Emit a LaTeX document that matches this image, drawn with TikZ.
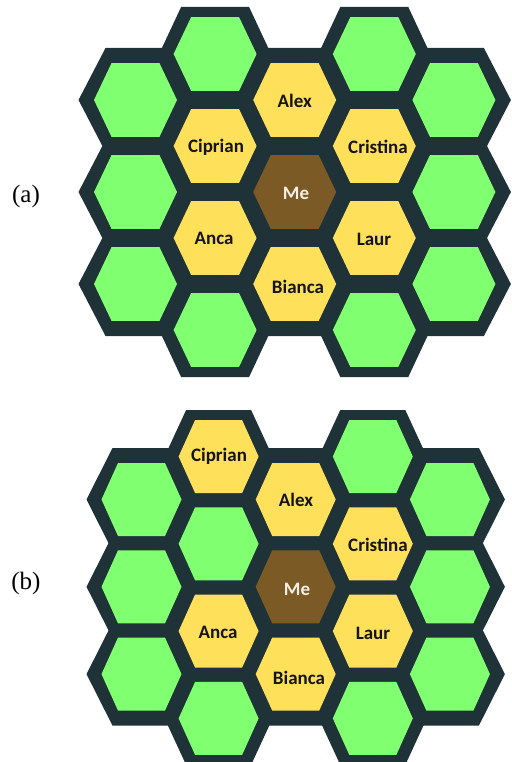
\documentclass[tikz,border=0pt]{standalone}
\usepackage{fontspec}
\newfontfamily\hexfont{Carlito}
\newfontfamily\capfont{Liberation Serif}
\definecolor{frame}{RGB}{30,50,56}
\definecolor{leaf}{RGB}{128,255,112}
\definecolor{gold}{RGB}{255,224,90}
\definecolor{bark}{RGB}{124,90,38}
\definecolor{metext}{RGB}{245,240,230}
\newcommand\hexcell[6]{\fill[#6] (#1-#3,#2) -- (#1-#4,#2-#5) -- (#1+#4,#2-#5) -- (#1+#3,#2) -- (#1+#4,#2+#5) -- (#1-#4,#2+#5) -- cycle;}
\tikzset{
  lbl/.style={font=\hexfont\bfseries\fontsize{19}{22}\selectfont, text=black!92, inner sep=0pt},
  melbl/.style={lbl, text=metext},
  caplbl/.style={font=\capfont\fontsize{25}{28}\selectfont, text=black, inner sep=0pt}
}
\begin{document}
\begin{tikzpicture}[x=1pt,y=-1pt]
\useasboundingbox (0,0) rectangle (511,762);
% ---------- panel (a) ----------
% outer dark rims
\foreach \x/\y in {135.5/100,135.5/192,135.5/284,453.9/100,453.9/192,453.9/284,294.7/100,294.7/284}
  {\hexcell{\x}{\y}{57}{30}{52}{frame}}
% dark tiling
\foreach \x/\y in {215.1/54,215.1/146,215.1/238,215.1/330,374.3/54,374.3/146,374.3/238,374.3/330,294.7/192}
  {\hexcell{\x}{\y}{56}{34}{47}{frame}}
% fills
\foreach \x/\y/\c in {135.5/100/leaf,135.5/192/leaf,135.5/284/leaf,
  215.1/54/leaf,215.1/146/gold,215.1/238/gold,215.1/330/leaf,
  294.7/100/gold,294.7/192/bark,294.7/284/gold,
  374.3/54/leaf,374.3/146/gold,374.3/238/gold,374.3/330/leaf,
  453.9/100/leaf,453.9/192/leaf,453.9/284/leaf}
  {\hexcell{\x}{\y}{41.5}{24}{36.8}{\c}}
\node[lbl] (alexA) at (294.7,101) {Alex};
\node[lbl] (ciprianA) at (216,147) {Ciprian};
\node[lbl] (cristinaA) at (378,147) {Cristina};
\node[melbl] (meA) at (296,193) {Me};
\node[lbl] (ancaA) at (214,238) {Anca};
\node[lbl] (laurA) at (374,239) {Laur};
\node[lbl] (biancaA) at (298,287) {Bianca};
\node[caplbl] (capA) at (26,196) {(a)};
% ---------- panel (b) ----------
\foreach \x/\y in {141.5/499.5,141.5/586.8,141.5/674.1,449.9/499.5,449.9/586.8,449.9/674.1,295.7/499.5,295.7/674.1}
  {\hexcell{\x}{\y}{55}{29}{51.5}{frame}}
\foreach \x/\y in {218.6/456.5,218.6/543.8,218.6/631.1,218.6/718.4,372.8/456.5,372.8/543.8,372.8/631.1,372.8/718.4,295.7/586.8}
  {\hexcell{\x}{\y}{54}{32.5}{46.5}{frame}}
\foreach \x/\y/\c in {141.5/499.5/leaf,141.5/586.8/leaf,141.5/674.1/leaf,
  218.6/456.5/gold,218.6/543.8/leaf,218.6/631.1/gold,218.6/718.4/leaf,
  295.7/499.5/gold,295.7/586.8/bark,295.7/674.1/gold,
  372.8/456.5/leaf,372.8/543.8/gold,372.8/631.1/gold,372.8/718.4/leaf,
  449.9/499.5/leaf,449.9/586.8/leaf,449.9/674.1/leaf}
  {\hexcell{\x}{\y}{40}{23.5}{36.5}{\c}}
\node[lbl] (ciprianB) at (219,456) {Ciprian};
\node[lbl] (alexB) at (296,500) {Alex};
\node[lbl] (cristinaB) at (378,545) {Cristina};
\node[melbl] (meB) at (297,589) {Me};
\node[lbl] (ancaB) at (218,632) {Anca};
\node[lbl] (laurB) at (373,633) {Laur};
\node[lbl] (biancaB) at (299,678) {Bianca};
\node[caplbl] (capB) at (26,583) {(b)};
\end{tikzpicture}
\end{document}
